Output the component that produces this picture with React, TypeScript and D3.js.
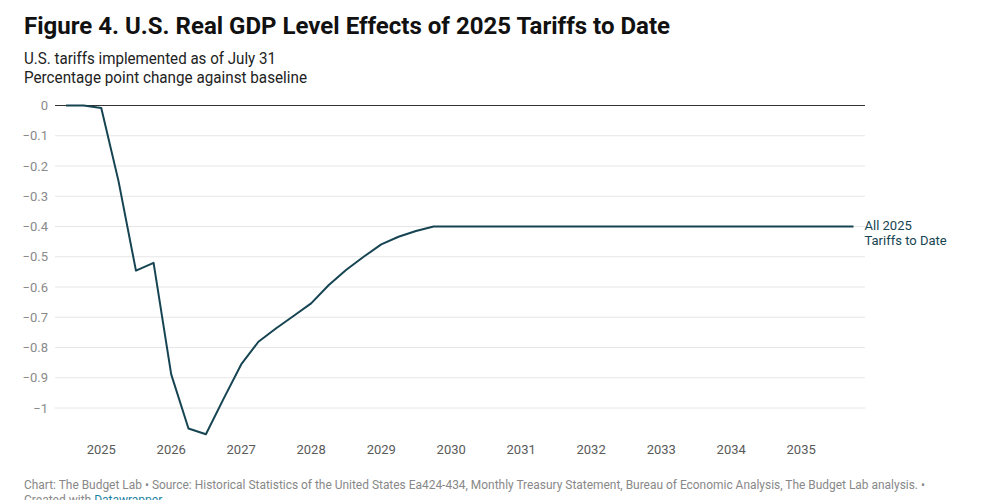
import * as d3 from "d3";
import { useEffect } from "react";

// quarterly points (first day of quarter)
const quarters = [
  "2024-07-01", "2024-10-01",
  "2025-01-01", "2025-04-01", "2025-07-01", "2025-10-01",
  "2026-01-01", "2026-04-01", "2026-07-01", "2026-10-01",
  "2027-01-01", "2027-04-01", "2027-07-01", "2027-10-01",
  "2028-01-01", "2028-04-01", "2028-07-01", "2028-10-01",
  "2029-01-01", "2029-04-01", "2029-07-01", "2029-10-01",
  "2030-01-01", "2030-04-01", "2030-07-01", "2030-10-01",
  "2031-01-01", "2031-04-01", "2031-07-01", "2031-10-01",
  "2032-01-01", "2032-04-01", "2032-07-01", "2032-10-01",
  "2033-01-01", "2033-04-01", "2033-07-01", "2033-10-01",
  "2034-01-01", "2034-04-01", "2034-07-01", "2034-10-01",
  "2035-01-01", "2035-04-01", "2035-07-01", "2035-10-01",
];

const allTariffs = [
  0, 0,
  -0.008, -0.25, -0.546, -0.52,
  -0.889, -1.068, -1.087, -0.97,
  -0.856, -0.781, -0.737, -0.696,
  -0.654, -0.594, -0.544, -0.5,
  -0.459, -0.434, -0.415, -0.4,
  -0.4, -0.4, -0.4, -0.4,
  -0.4, -0.4, -0.4, -0.4,
  -0.4, -0.4, -0.4, -0.4,
  -0.4, -0.4, -0.4, -0.4,
  -0.4, -0.4, -0.4, -0.4,
  -0.4, -0.4, -0.4, -0.4,
];

const yTicks = [0, -0.1, -0.2, -0.3, -0.4, -0.5, -0.6, -0.7, -0.8, -0.9, -1];
const xTicks = ["2025", "2026", "2027", "2028", "2029", "2030", "2031", "2032", "2033", "2034", "2035"];

const seriesLabel = ["All 2025", "Tariffs to Date"];

const lineColor = "#164452";
const font = "Roboto, 'Noto Sans', sans-serif";

export default function App() {
  useEffect(() => {
    document.body.style.margin = "0";
  }, []);

  const parse = d3.timeParse("%Y-%m-%d");
  const data = quarters.map((q, i) => ({ date: parse(q)!, value: allTariffs[i] }));

  const x = d3
    .scaleTime()
    .domain([parse(quarters[0])!, parse(quarters[quarters.length - 1])!])
    .range([66, 853.5]);
  const y = d3.scaleLinear().domain([0, -1]).range([105.5, 408]);

  const line = d3
    .line<{ date: Date; value: number }>()
    .x((d) => x(d.date))
    .y((d) => y(d.value));

  const fmt = (v: number) => (v === 0 ? "0" : "\u2212" + d3.format("")(Math.abs(v)));
  const last = data[data.length - 1];

  return (
    <svg width={1000} height={500} style={{ display: "block", fontFamily: font }}>
      <rect width={1000} height={500} fill="#fff" />
      <text x={24} y={34} fontSize={24} fontWeight={700} fill="#111" textLength={646} lengthAdjust="spacingAndGlyphs">
        Figure 4. U.S. Real GDP Level Effects of 2025 Tariffs to Date
      </text>
      <text x={24} y={64} fontSize={16} fill="#222" textLength={252} lengthAdjust="spacingAndGlyphs">
        U.S. tariffs implemented as of July 31
      </text>
      <text x={24} y={83} fontSize={16} fill="#222" textLength={283} lengthAdjust="spacingAndGlyphs">
        Percentage point change against baseline
      </text>

      {yTicks.map((t) => (
        <g key={t}>
          {t !== 0 && <line x1={55} x2={865} y1={y(t)} y2={y(t)} stroke="#e6e6e6" strokeWidth={1} />}
          <text x={48} y={y(t)} dy="0.35em" textAnchor="end" fontSize={13} fill="#8a8a8a">
            {fmt(t)}
          </text>
        </g>
      ))}

      {xTicks.map((t) => (
        <text key={t} x={x(parse(t + "-01-01")!)} y={454} textAnchor="middle" fontSize={13} fill="#5a5a5a">
          {t}
        </text>
      ))}

      <line x1={55} x2={865} y1={y(0)} y2={y(0)} stroke="#333" strokeWidth={1} />

      <path d={line(data) ?? ""} fill="none" stroke={lineColor} strokeWidth={2} strokeLinejoin="round" />

      <text x={x(last.date) + 11} y={y(last.value)} fontSize={13} fill={lineColor}>
        {seriesLabel.map((s, i) => (
          <tspan key={s} x={x(last.date) + 11} dy={i === 0 ? "0.3em" : "1.15em"}>
            {s}
          </tspan>
        ))}
      </text>

      <text x={24} y={489} fontSize={12} fill="#888" textLength={901} lengthAdjust="spacingAndGlyphs">
        Chart: The Budget Lab • Source: Historical Statistics of the United States Ea424-434, Monthly Treasury Statement, Bureau of Economic Analysis, The Budget Lab analysis.  •
      </text>
      <text x={24} y={504} fontSize={12} fill="#888">
        Created with <tspan fill="#1d81a2">Datawrapper</tspan>
      </text>
    </svg>
  );
}
